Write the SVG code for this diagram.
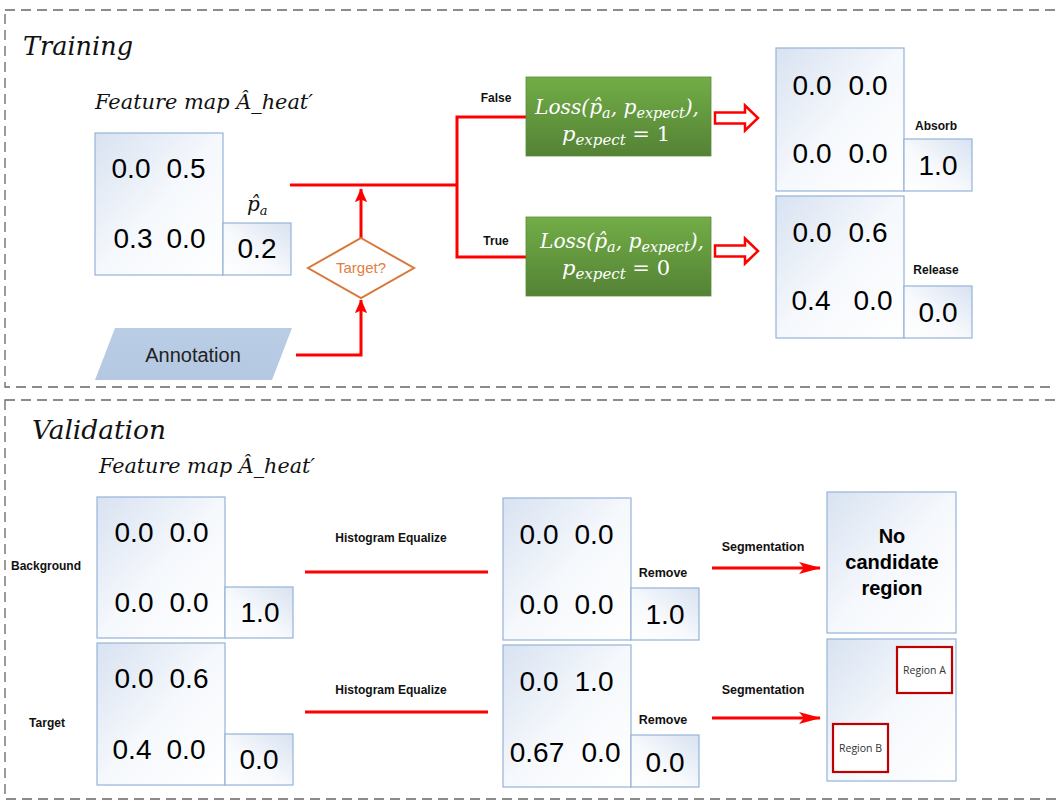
<svg xmlns="http://www.w3.org/2000/svg" width="1056" height="801" viewBox="0 0 1056 801">
<defs>
<linearGradient id="gBig" x1="0" y1="0" x2="1" y2="1">
<stop offset="0" stop-color="#d8e2f1"/>
<stop offset="0.5" stop-color="#f5f8fc"/>
<stop offset="1" stop-color="#ffffff"/>
</linearGradient>
<linearGradient id="gSmall" x1="1" y1="0" x2="0" y2="1">
<stop offset="0" stop-color="#d8e2f1"/>
<stop offset="0.55" stop-color="#f7f9fc"/>
<stop offset="1" stop-color="#ffffff"/>
</linearGradient>
<linearGradient id="gGreen" x1="0" y1="0" x2="0" y2="1">
<stop offset="0" stop-color="#72ad47"/>
<stop offset="1" stop-color="#548235"/>
</linearGradient>
<linearGradient id="gAnn" x1="0" y1="0" x2="0" y2="1">
<stop offset="0" stop-color="#b9cde5"/>
<stop offset="1" stop-color="#b4c8e2"/>
</linearGradient>
<marker id="arUp" markerUnits="userSpaceOnUse" markerWidth="14" markerHeight="16" viewBox="0 0 16 14" refX="15" refY="7" orient="auto">
<path d="M0,0 L16,7 L0,14 L3,7 z" fill="#ff0000"/>
</marker>
<marker id="arSeg" markerUnits="userSpaceOnUse" markerWidth="22" markerHeight="12" viewBox="0 0 22 12" refX="21" refY="6" orient="auto">
<path d="M0,0 L22,6 L0,12 L5,6 z" fill="#ff0000"/>
</marker>
<style>
.frame{fill:none;stroke:#666;stroke-width:1.3;stroke-dasharray:10 6}
.big{fill:url(#gBig);stroke:#95b3d7;stroke-width:1.2}
.small{fill:url(#gSmall);stroke:#95b3d7;stroke-width:1.2}
.num{font-family:"Liberation Sans",Arial,sans-serif;font-size:28px;fill:#000;text-anchor:middle}
.lbl{font-family:"Liberation Sans",Arial,sans-serif;font-size:12px;font-weight:bold;fill:#111;text-anchor:middle}
.title{font-family:"DejaVu Serif",serif;font-style:italic;font-size:26px;fill:#111}
.fm{font-family:"DejaVu Serif",serif;font-style:italic;font-size:20px;fill:#111}
.math{font-family:"DejaVu Serif",serif;font-style:italic;font-size:21px;fill:#fff;text-anchor:middle}
.wire{fill:none;stroke:#ff0000;stroke-width:3}
.hollow{fill:#fff;stroke:#ff0000;stroke-width:2.5;stroke-linejoin:miter}
.green{fill:url(#gGreen);stroke:#5a8a3a;stroke-width:0.8}
.region{fill:#fff;stroke:#c00000;stroke-width:2.2}
.rtxt{font-family:"Open Sans","Liberation Sans",sans-serif;font-size:10.5px;fill:#333;text-anchor:middle}
</style>
</defs>
<rect width="1056" height="801" fill="#fff"/>

<!-- frames -->
<g id="training-frame">
<rect class="frame" x="5" y="10" width="1070" height="377"/>
<text class="title" x="23" y="55" textLength="110" lengthAdjust="spacingAndGlyphs">Training</text>
</g>
<g id="validation-frame">
<rect class="frame" x="5" y="400" width="1070" height="399"/>
<text class="title" x="32" y="439" textLength="134" lengthAdjust="spacingAndGlyphs">Validation</text>
</g>

<!-- connectors -->
<g id="connectors">
<path class="wire" d="M290,185 H457"/>
<path class="wire" d="M526,117 H457 V257 H526"/>
<path class="wire" d="M361,238 V189" marker-end="url(#arUp)"/>
<path class="wire" d="M296,355 H361 V300" marker-end="url(#arUp)"/>
<path class="hollow" d="M715,112.5 H745 V105.5 L758,118 L745,130.5 V123.5 H715 z"/>
<path class="hollow" d="M715,245.5 H745 V238.5 L758,251 L745,263.5 V256.5 H715 z"/>
<path class="wire" d="M305,572 H488"/>
<path class="wire" d="M305,712 H488"/>
<path class="wire" d="M712,568 H820" marker-end="url(#arSeg)"/>
<path class="wire" d="M712,718 H820" marker-end="url(#arSeg)"/>
<text class="lbl" x="496" y="102">False</text>
<text class="lbl" x="496" y="245">True</text>
<text class="lbl" x="391" y="542">Histogram Equalize</text>
<text class="lbl" x="391" y="694">Histogram Equalize</text>
<text class="lbl" x="763" y="551" style="font-size:12.5px">Segmentation</text>
<text class="lbl" x="763" y="694" style="font-size:12.5px">Segmentation</text>
</g>

<!-- training feature map -->
<g id="train-feature-map">
<text class="fm" x="95" y="109" textLength="218" lengthAdjust="spacingAndGlyphs">Feature map Â_heat′</text>
<rect class="big" x="95" y="133" width="128" height="142"/>
<rect class="small" x="223" y="223" width="68" height="52"/>
<text class="num" x="131" y="178">0.0</text>
<text class="num" x="186" y="178">0.5</text>
<text class="num" x="133" y="248">0.3</text>
<text class="num" x="186" y="248">0.0</text>
<text class="num" x="257" y="258">0.2</text>
<text class="fm" x="247" y="211" style="font-size:20px">p̂<tspan font-size="13" dy="4">a</tspan></text>
</g>

<g id="annotation">
<polygon points="115,328 292,328 272,380 95,380" fill="url(#gAnn)"/>
<text x="193" y="362" style="font-family:'Liberation Sans',Arial,sans-serif;font-size:20px;fill:#222;text-anchor:middle">Annotation</text>
</g>

<g id="target-decision">
<polygon points="361,238 414,268 361,298 308,268" fill="#fff" stroke="#d9773a" stroke-width="2"/>
<text x="361" y="273" style="font-family:'Liberation Sans',Arial,sans-serif;font-size:15px;fill:#e0803f;text-anchor:middle">Target?</text>
</g>

<g id="loss-false">
<rect class="green" x="526" y="77" width="185" height="79"/>
<text class="math" x="617" y="114" textLength="164" lengthAdjust="spacingAndGlyphs">Loss(p̂<tspan font-size="15" dy="4">a</tspan><tspan dy="-4">, p</tspan><tspan font-size="15" dy="4">expect</tspan><tspan dy="-4">),</tspan></text>
<text class="math" x="616" y="141">p<tspan font-size="15" dy="4">expect</tspan><tspan dy="-4" font-style="normal"> = 1</tspan></text>
</g>

<g id="loss-true">
<rect class="green" x="526" y="217" width="185" height="79"/>
<text class="math" x="622" y="248" textLength="164" lengthAdjust="spacingAndGlyphs">Loss(p̂<tspan font-size="15" dy="4">a</tspan><tspan dy="-4">, p</tspan><tspan font-size="15" dy="4">expect</tspan><tspan dy="-4">),</tspan></text>
<text class="math" x="616" y="275">p<tspan font-size="15" dy="4">expect</tspan><tspan dy="-4" font-style="normal"> = 0</tspan></text>
</g>

<g id="absorb-map">
<rect class="big" x="776" y="48" width="128" height="143"/>
<rect class="small" x="904" y="139" width="68" height="52"/>
<text class="num" x="812" y="95">0.0</text>
<text class="num" x="868" y="95">0.0</text>
<text class="num" x="812" y="163">0.0</text>
<text class="num" x="868" y="163">0.0</text>
<text class="num" x="938" y="175">1.0</text>
<text class="lbl" x="936" y="130">Absorb</text>
</g>

<g id="release-map">
<rect class="big" x="776" y="196" width="128" height="142"/>
<rect class="small" x="904" y="286" width="68" height="52"/>
<text class="num" x="812" y="242">0.0</text>
<text class="num" x="868" y="242">0.6</text>
<text class="num" x="811" y="310">0.4</text>
<text class="num" x="873" y="310">0.0</text>
<text class="num" x="938" y="322">0.0</text>
<text class="lbl" x="936" y="274">Release</text>
</g>

<!-- validation -->
<g id="val-feature-label">
<text class="fm" x="99" y="473" textLength="216" lengthAdjust="spacingAndGlyphs">Feature map Â_heat′</text>
<text class="lbl" x="46" y="570">Background</text>
<text class="lbl" x="47" y="727">Target</text>
</g>

<g id="val-bg-map">
<rect class="big" x="97" y="497" width="128" height="141"/>
<rect class="small" x="225" y="587" width="68" height="51"/>
<text class="num" x="134" y="542">0.0</text>
<text class="num" x="189" y="542">0.0</text>
<text class="num" x="134" y="612">0.0</text>
<text class="num" x="189" y="612">0.0</text>
<text class="num" x="260" y="622">1.0</text>
</g>

<g id="val-target-map">
<rect class="big" x="97" y="643" width="128" height="142"/>
<rect class="small" x="225" y="734" width="68" height="51"/>
<text class="num" x="134" y="688">0.0</text>
<text class="num" x="189" y="688">0.6</text>
<text class="num" x="132" y="759">0.4</text>
<text class="num" x="186" y="759">0.0</text>
<text class="num" x="259" y="769">0.0</text>
</g>

<g id="eq-bg-map">
<rect class="big" x="503" y="498" width="128" height="142"/>
<rect class="small" x="631" y="588" width="68" height="52"/>
<text class="num" x="539" y="544">0.0</text>
<text class="num" x="594" y="544">0.0</text>
<text class="num" x="539" y="614">0.0</text>
<text class="num" x="594" y="614">0.0</text>
<text class="num" x="665" y="624">1.0</text>
<text class="lbl" x="663" y="577" style="font-size:12.5px">Remove</text>
</g>

<g id="eq-target-map">
<rect class="big" x="503" y="645" width="128" height="142"/>
<rect class="small" x="631" y="735" width="68" height="52"/>
<text class="num" x="539" y="691">0.0</text>
<text class="num" x="594" y="691">1.0</text>
<text class="num" x="537" y="762">0.67</text>
<text class="num" x="601" y="762">0.0</text>
<text class="num" x="665" y="772">0.0</text>
<text class="lbl" x="663" y="724" style="font-size:12.5px">Remove</text>
</g>

<g id="result-bg">
<rect class="big" x="827" y="492" width="129" height="141"/>
<text x="892" y="543" style="font-family:'Liberation Sans',Arial,sans-serif;font-size:20px;font-weight:bold;fill:#000;text-anchor:middle">No</text>
<text x="892" y="569" style="font-family:'Liberation Sans',Arial,sans-serif;font-size:20px;font-weight:bold;fill:#000;text-anchor:middle">candidate</text>
<text x="892" y="595" style="font-family:'Liberation Sans',Arial,sans-serif;font-size:20px;font-weight:bold;fill:#000;text-anchor:middle">region</text>
</g>

<g id="result-target">
<rect class="big" x="827" y="639" width="129" height="142"/>
<rect class="region" x="897" y="647" width="55" height="46"/>
<text class="rtxt" x="924.5" y="674">Region A</text>
<rect class="region" x="833" y="724" width="55" height="48"/>
<text class="rtxt" x="860.5" y="752">Region B</text>
</g>
</svg>
